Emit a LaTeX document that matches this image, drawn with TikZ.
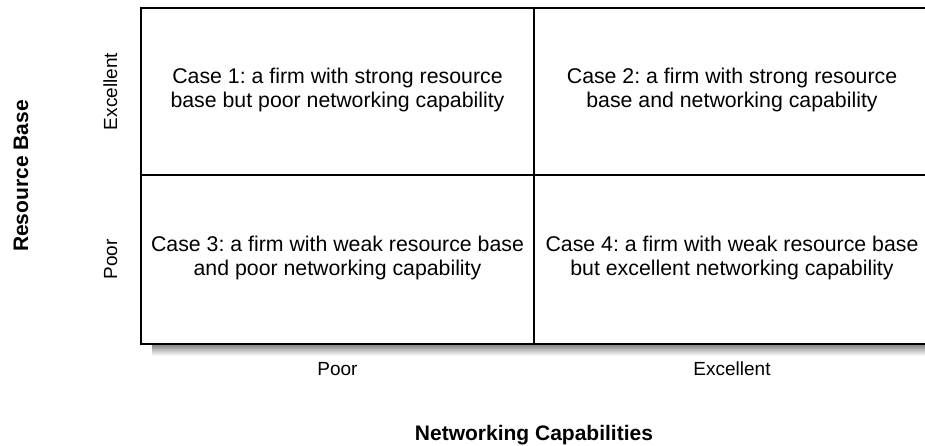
\documentclass[tikz,border=0pt]{standalone}
\usepackage{fontspec}
\setmainfont{Liberation Sans}
\usepackage{tikz}
\frenchspacing
\definecolor{shade}{RGB}{192,192,192}
\newcommand{\drawgrid}{\draw[line width=2.2pt]}
\newcommand{\casetext}[4]{\node[cell] (#1) at (#2,#3) {#4};}
\tikzset{
  cell/.style={align=center, font=\fontsize{21.3}{24}\selectfont},
  axislabel/.style={font=\fontsize{19}{22}\selectfont, anchor=base},
  axistitle/.style={font=\fontsize{21}{24}\selectfont\bfseries, anchor=base}
}

\begin{document}
\begin{tikzpicture}[x=1pt,y=-1pt]
\useasboundingbox (0,0) rectangle (925,445);
\clip (0,0) rectangle (925,445);
\fill[shade] (152,344) rectangle (930,355.7);
\fill[white] (141,8) rectangle (930,344);
\drawgrid (930,8)--(141,8)--(141,344)--(930,344);
\drawgrid (534,8)--(534,344);
\drawgrid (141,175)--(930,175);
\casetext{case1}{337.5}{90}{Case 1: a firm with strong resource\\base but poor networking capability}
\casetext{case2}{732}{90}{Case 2: a firm with strong resource\\base and networking capability}
\casetext{case3}{337.5}{258}{Case 3: a firm with weak resource base\\and poor networking capability}
\casetext{case4}{732}{258}{Case 4: a firm with weak resource base\\but excellent networking capability}
% axis labels
\node[axislabel, rotate=90] (rexc) at (117,91.5) {Excellent};
\node[axislabel, rotate=90] (rpoor) at (117,259.5) {Poor};
\node[axislabel] (npoor) at (337.5,375) {Poor};
\node[axislabel] (nexc) at (732,375) {Excellent};
\node[axistitle, rotate=90] (rbase) at (28,176) {Resource Base};
\node[axistitle] (ncap) at (534,440) {Networking Capabilities};
\end{tikzpicture}
\end{document}
